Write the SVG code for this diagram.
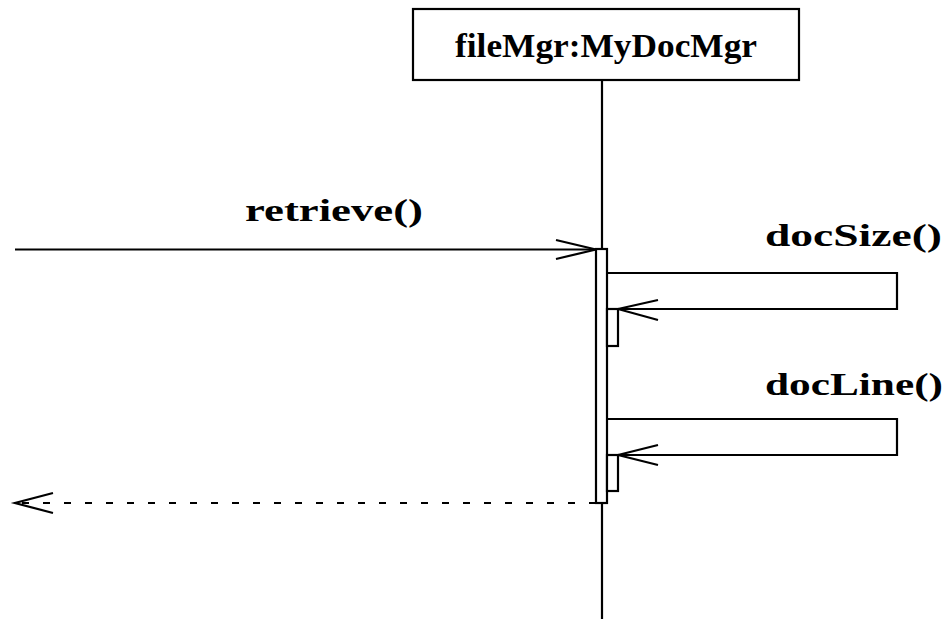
<svg xmlns="http://www.w3.org/2000/svg" width="951" height="619" viewBox="0 0 951 619">
<style>
.ln{stroke:#000;stroke-width:2.2;fill:none}
.bx{stroke:#000;stroke-width:2.2;fill:#fff}
.t{font-family:"Liberation Serif","DejaVu Serif",serif;font-weight:bold;font-size:32px;fill:#000}
</style>
<rect width="951" height="619" fill="#fff"/>
<g id="fileMgr">
<line class="ln" x1="602" y1="80" x2="602" y2="619"/>
<rect class="bx" x="413" y="9" width="386" height="71"/>
<text class="t" x="455" y="57" textLength="302" lengthAdjust="spacingAndGlyphs" style="font-size:34px">fileMgr:MyDocMgr</text>
<rect class="bx" x="596" y="249" width="11" height="254"/>
<rect class="bx" x="607" y="309" width="11" height="37"/>
<rect class="bx" x="607" y="455" width="11" height="36"/>
</g>
<g id="connectors">
<line class="ln" x1="15" y1="249.5" x2="596" y2="249.5"/>
<polyline class="ln" points="556,240 596,249.5 556,259"/>
<text class="t" x="245" y="221" textLength="178" lengthAdjust="spacingAndGlyphs">retrieve()</text>
<polyline class="ln" points="607,273 897,273 897,309 618,309"/>
<polyline class="ln" points="658,300 618,309 658,320"/>
<text class="t" x="765" y="246" textLength="177" lengthAdjust="spacingAndGlyphs">docSize()</text>
<polyline class="ln" points="607,419 897,419 897,455 618,455"/>
<polyline class="ln" points="658,445 618,455 658,465"/>
<text class="t" x="765" y="395" textLength="178" lengthAdjust="spacingAndGlyphs">docLine()</text>
<line class="ln" x1="596" y1="503" x2="18" y2="503" stroke-dasharray="7 14"/>
<polyline class="ln" points="53,493 15,503 53,513"/>
</g>
</svg>
